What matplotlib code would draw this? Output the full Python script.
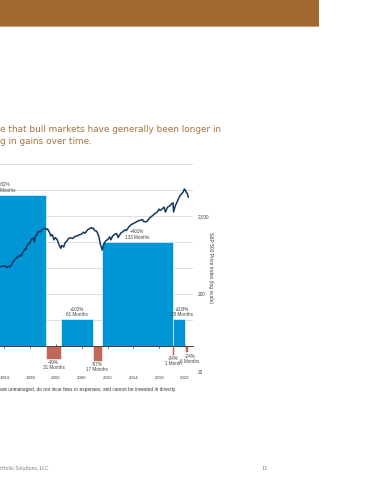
import matplotlib.pyplot as plt
from matplotlib.patches import Rectangle
from matplotlib.ticker import NullLocator

# bull / bear markets: start year, end year, % change, duration
bar_start = [1987.3, 2000.45, 2002.77, 2007.7, 2009.1, 2020.0, 2020.1, 2021.95]
bar_end = [2000.45, 2002.77, 2007.7, 2009.1, 2020.1, 2020.35, 2022.0, 2022.45]
bar_pct = [582, -49, 102, -57, 401, -34, 103, -24]
bar_months = ["148 Months", "31 Months", "61 Months", "17 Months",
              "133 Months", "1 Month", "25 Months", "6 Months"]

# S&P 500 price index
spx_year = [1993.3, 1993.7, 1994.0, 1994.3, 1994.6, 1994.9, 1995.2, 1995.5, 1995.8,
            1996.1, 1996.4, 1996.6, 1996.9, 1997.2, 1997.3, 1997.5, 1997.8, 1997.9,
            1998.2, 1998.5, 1998.65, 1998.8, 1999.1, 1999.3, 1999.6, 1999.8, 2000.0,
            2000.3, 2000.5, 2000.7, 2001.0, 2001.2, 2001.4, 2001.7, 2001.9, 2002.2,
            2002.5, 2002.75, 2002.9, 2003.2, 2003.4, 2003.7, 2004.0, 2004.3, 2004.6,
            2004.9, 2005.3, 2005.6, 2005.9, 2006.3, 2006.5, 2006.9, 2007.2, 2007.45,
            2007.6, 2007.8, 2008.0, 2008.3, 2008.5, 2008.7, 2008.85, 2009.0, 2009.15,
            2009.4, 2009.7, 2010.1, 2010.35, 2010.5, 2010.8, 2011.2, 2011.4, 2011.65,
            2011.8, 2012.1, 2012.4, 2012.7, 2012.9, 2013.3, 2013.7, 2014.0, 2014.5,
            2014.9, 2015.4, 2015.65, 2016.1, 2016.5, 2016.9, 2017.3, 2017.7, 2018.0,
            2018.15, 2018.5, 2018.75, 2018.97, 2019.3, 2019.6, 2020.0, 2020.15, 2020.23,
            2020.5, 2020.8, 2021.0, 2021.3, 2021.6, 2021.75, 2021.9, 2022.05, 2022.2,
            2022.35, 2022.5]
spx_value = [448, 455, 462, 440, 452, 445, 490, 540, 570,
             598, 630, 610, 690, 760, 735, 830, 900, 880,
             1010, 1040, 930, 1080, 1180, 1270, 1250, 1330, 1360,
             1395, 1340, 1370, 1230, 1110, 1160, 990, 1060, 990,
             840, 771, 840, 800, 900, 960, 1040, 1050, 1030,
             1090, 1110, 1150, 1160, 1240, 1200, 1330, 1370, 1420,
             1380, 1400, 1300, 1280, 1180, 1050, 880, 820, 733,
             860, 960, 1010, 1080, 990, 1110, 1180, 1190, 1060,
             1120, 1220, 1260, 1330, 1300, 1450, 1560, 1600, 1690,
             1750, 1800, 1680, 1700, 1880, 2000, 2130, 2250, 2450,
             2350, 2480, 2600, 2250, 2600, 2680, 2900, 2950, 2250,
             2700, 3050, 3350, 3700, 3950, 4100, 4440, 4300, 4050,
             3900, 3506]

year_ticks = [1994, 1998, 2002, 2006, 2010, 2014, 2018, 2022]
log_ticks = [20, 200, 2000]
log_labels = ["20", "200", "2,000"]

W, H = 370, 480
gray = '#404040'

fig = plt.figure(figsize=(3.7, 4.8), dpi=100)

# header band
fig.add_artist(Rectangle((0, 1 - 26 / H), 319 / W, 26 / H, transform=fig.transFigure,
                         color='#A0692F', lw=0))
fig.add_artist(Rectangle((0, 1 - 26.8 / H), 319 / W, 0.8 / H, transform=fig.transFigure,
                         color='#C4A07A', lw=0))

sub_color = '#A8733F'
fig.text(-0.5 / W, 1 - 130 / H, "e that bull markets have generally been longer in",
         ha='left', va='center', fontsize=6.4, color=sub_color, family='DejaVu Sans')
fig.text(-0.5 / W, 1 - 142 / H, "g in gains over time.",
         ha='left', va='center', fontsize=6.4, color=sub_color, family='DejaVu Sans')

# main chart (extends past the left edge of the slide crop)
ax = fig.add_axes([-44 / W, 108 / H, 236.7 / W, 208 / H])
ax.set_xlim(1986.5, 2023.2)
ax.set_ylim(-100, 700)
ax.set_yticks(range(-100, 701, 100))
ax.yaxis.grid(True, color='#d9d9d9', lw=0.6)
ax.set_axisbelow(True)
ax.tick_params(axis='y', left=False, labelleft=False)
for s in ['top', 'right', 'left']:
    ax.spines[s].set_visible(False)
ax.spines['bottom'].set_position(('data', 0))
ax.spines['bottom'].set_color(gray)
ax.spines['bottom'].set_linewidth(0.7)
ax.set_xticks(year_ticks)
ax.tick_params(axis='x', direction='inout', length=3, width=0.6, color=gray,
               labelsize=3.2, labelcolor=gray, pad=20)
for lbl in ax.get_xticklabels():
    lbl.set_family('Liberation Sans')

widths = [e - s for s, e in zip(bar_start, bar_end)]
colors = ['#0096D6' if p > 0 else '#C0675A' for p in bar_pct]
ax.bar(bar_start, bar_pct, width=widths, align='edge', color=colors,
       edgecolor='white', linewidth=0.4, zorder=2)

for i, (s, w, p, m) in enumerate(zip(bar_start, widths, bar_pct, bar_months)):
    cx = s + w / 2
    dx = 0
    if i == 6:
        dx = 2
    if i == 7:
        dx = 2.5
    if p > 0:
        ax.annotate(f"+{p}%\n{m}", (cx, p), xytext=(dx, 1.5), textcoords='offset points',
                    ha='center', va='bottom', fontsize=3.3, color=gray,
                    linespacing=1.05, family='Liberation Sans')
    else:
        ax.annotate(f"{p}%\n{m}", (cx, p), xytext=(dx, -1), textcoords='offset points',
                    ha='center', va='top', fontsize=3.3, color=gray,
                    linespacing=1.05, family='Liberation Sans')

# S&P 500 on log scale
ax2 = ax.twinx()
ax2.set_yscale('log')
ax2.set_ylim(20, 20 * 10 ** (208 / 78))
ax2.plot(spx_year, spx_value, color='#17375E', lw=1.1, zorder=3)
ax2.set_yticks(log_ticks)
ax2.set_yticklabels(log_labels)
ax2.yaxis.set_minor_locator(NullLocator())
ax2.tick_params(axis='y', length=0, labelsize=3.4, labelcolor=gray, pad=3.5)
for lbl in ax2.get_yticklabels():
    lbl.set_family('Liberation Sans')
for s in ax2.spines.values():
    s.set_visible(False)

fig.text(211 / W, 1 - 267 / H, "S&P 500 Price Index (log scale)", rotation=270,
         ha='center', va='center', fontsize=3.6, color=gray, family='Liberation Sans')

fig.text(0, 1 - 389 / H,
         "are unmanaged, do not incur fees or expenses, and cannot be invested in directly.",
         ha='left', va='center', fontsize=3.4, color='#333333', family='Liberation Sans')

fig.text(0, 1 - 468 / H, "rtfolio Solutions, LLC", ha='left', va='center',
         fontsize=3.8, color='#808080', family='Lato')
fig.text(262 / W, 1 - 468 / H, "11", ha='left', va='center',
         fontsize=3.8, color='#808080', family='Lato')

fig.savefig('out.png', dpi=100)
